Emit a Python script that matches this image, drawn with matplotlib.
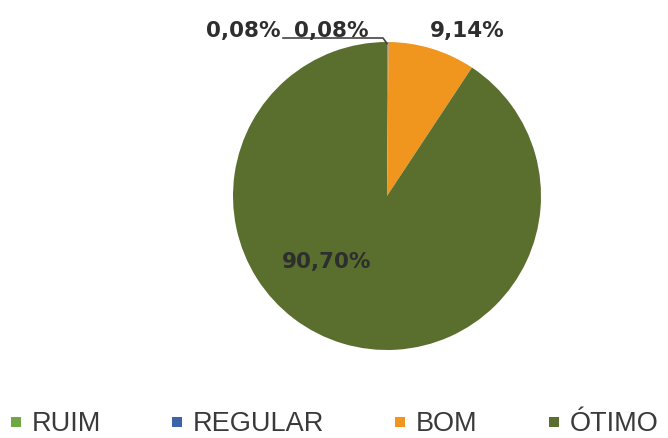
import matplotlib.pyplot as plt
from matplotlib.lines import Line2D

plt.rcParams['font.family'] = ['Liberation Sans', 'DejaVu Sans']

categories = ["RUIM", "REGULAR", "BOM", "ÓTIMO"]
values = [0.08, 0.08, 9.14, 90.70]
value_labels = ["0,08%", "0,08%", "9,14%", "90,70%"]
colors = ["#6fa843", "#3d64a8", "#f0961e", "#5a6e2e"]

fig = plt.figure(figsize=(6.68, 4.38), dpi=100)
# pie centre about (387, 196) px, radius about 154 px
ax = fig.add_axes([233 / 668, (438 - 350) / 438, 308 / 668, 308 / 438])

wedges, _ = ax.pie(values, colors=colors, startangle=90, counterclock=False,
                   wedgeprops=dict(linewidth=0))
ax.set_xlim(-1, 1)
ax.set_ylim(-1, 1)
ax.set_aspect('auto')

# label positions (baseline), in pie radius units
label_pos = [(-0.935, 1.032), (-0.364, 1.032), (0.52, 1.032), (-0.39, -0.468)]
for txt, (x, y) in zip(value_labels, label_pos):
    ax.text(x, y, txt, ha='center', va='baseline', fontsize=15.5,
            fontweight='bold', color='#2e2e2e', family='DejaVu Sans',
            clip_on=False)

# leader line for the second small slice
ax.plot([-0.675, -0.026, 0.0], [1.026, 1.026, 0.99], color='#444444', lw=1.2,
        clip_on=False)

leg_x = [10.5 / 668, 171.5 / 668, 394.5 / 668, 548.5 / 668]
for cat, col, x in zip(categories, colors, leg_x):
    h = Line2D([], [], marker='s', markersize=6.8, linestyle='none',
               color=col, markeredgewidth=0)
    fig.legend(handles=[h], labels=[cat],
               loc='lower left', bbox_to_anchor=(x, 0.002), frameon=False,
               fontsize=19.5, handlelength=0.37, handletextpad=0.42,
               labelcolor='#3a3a3a', borderpad=0, borderaxespad=0)

fig.savefig("out.png", dpi=100, facecolor='white')
